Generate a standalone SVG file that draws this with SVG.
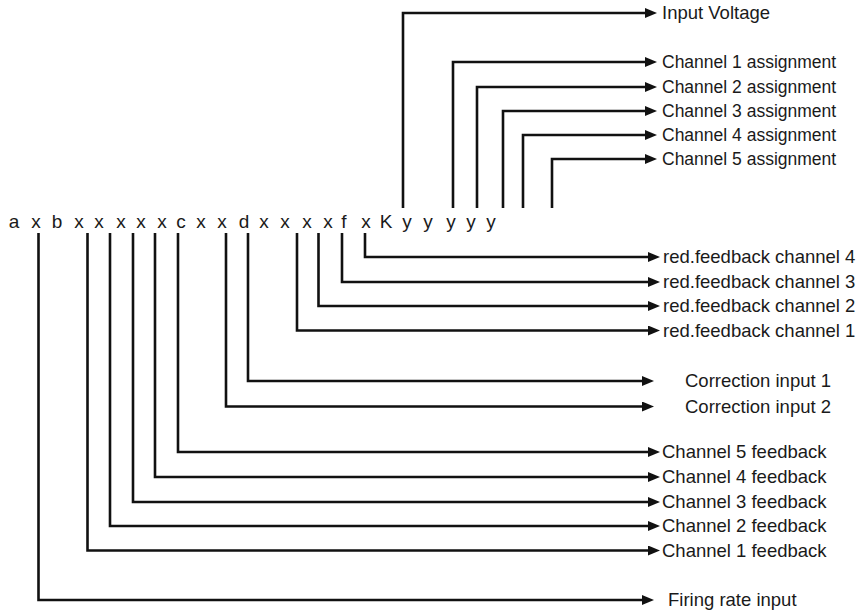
<svg xmlns="http://www.w3.org/2000/svg" width="860" height="614" viewBox="0 0 860 614">
  <style>
    .lbl { font-family: "Liberation Sans", Arial, sans-serif; font-size: 18.5px; fill: #1a1a1a; }
    .asg { font-size: 17.5px; }
    .bits { font-family: "Liberation Sans", Arial, sans-serif; font-size: 19px; fill: #1a1a1a; text-anchor: middle; }
    .wire { fill: none; stroke: #111; stroke-width: 2.6; stroke-linejoin: miter; }
  </style>
  <defs>
    <marker id="arr" markerUnits="userSpaceOnUse" markerWidth="14" markerHeight="12" refX="2" refY="5" orient="auto">
      <path d="M0,0 L12,5 L0,10 z" fill="#111"/>
    </marker>
  </defs>
  <rect width="860" height="614" fill="#fff"/>

  <g id="bitstring">
    <text class="bits" y="228" x="14 25 36 47 57 68 79 89 99 110 121 131 141 152 162 172 181 191 201 212 222 233 244 254 264 275 285 296 307 318 328 336 344 355 366 376 386 397 407 418 428 440 451 461 471 481 491">a x b x x x x x c x x d x x x x f x K y y y y y</text>
  </g>

  <g id="connectors">
    <path class="wire" marker-end="url(#arr)" d="M403,208 V13 H647"/>
    <path class="wire" marker-end="url(#arr)" d="M453,208 V62 H647"/>
    <path class="wire" marker-end="url(#arr)" d="M477,208 V87 H647"/>
    <path class="wire" marker-end="url(#arr)" d="M503,208 V111 H647"/>
    <path class="wire" marker-end="url(#arr)" d="M523,208 V135 H647"/>
    <path class="wire" marker-end="url(#arr)" d="M552,208 V159 H647"/>

    <path class="wire" marker-end="url(#arr)" d="M365,233 V257 H650"/>
    <path class="wire" marker-end="url(#arr)" d="M342,233 V282 H650"/>
    <path class="wire" marker-end="url(#arr)" d="M318.5,233 V306 H650"/>
    <path class="wire" marker-end="url(#arr)" d="M297,233 V330.5 H650"/>
    <path class="wire" marker-end="url(#arr)" d="M248,233 V381 H644"/>
    <path class="wire" marker-end="url(#arr)" d="M226,233 V406.5 H644"/>
    <path class="wire" marker-end="url(#arr)" d="M178,233 V452 H650"/>
    <path class="wire" marker-end="url(#arr)" d="M155,233 V477 H650"/>
    <path class="wire" marker-end="url(#arr)" d="M133,233 V502 H650"/>
    <path class="wire" marker-end="url(#arr)" d="M110,233 V526 H650"/>
    <path class="wire" marker-end="url(#arr)" d="M87.5,233 V550.5 H650"/>
    <path class="wire" marker-end="url(#arr)" d="M38.5,233 V600 H644"/>
  </g>

  <g id="input-voltage"><text class="lbl" x="662" y="19">Input Voltage</text></g>
  <g id="ch1-assignment"><text class="lbl asg" x="662" y="68">Channel 1 assignment</text></g>
  <g id="ch2-assignment"><text class="lbl asg" x="662" y="93">Channel 2 assignment</text></g>
  <g id="ch3-assignment"><text class="lbl asg" x="662" y="117">Channel 3 assignment</text></g>
  <g id="ch4-assignment"><text class="lbl asg" x="662" y="141">Channel 4 assignment</text></g>
  <g id="ch5-assignment"><text class="lbl asg" x="662" y="165">Channel 5 assignment</text></g>

  <g id="red-fb-4"><text class="lbl" x="663" y="263">red.feedback channel 4</text></g>
  <g id="red-fb-3"><text class="lbl" x="663" y="288">red.feedback channel 3</text></g>
  <g id="red-fb-2"><text class="lbl" x="663" y="312">red.feedback channel 2</text></g>
  <g id="red-fb-1"><text class="lbl" x="663" y="336.5">red.feedback channel 1</text></g>

  <g id="correction-1"><text class="lbl" x="685" y="387">Correction input 1</text></g>
  <g id="correction-2"><text class="lbl" x="685" y="412.5">Correction input 2</text></g>

  <g id="ch5-feedback"><text class="lbl" x="662" y="458">Channel 5 feedback</text></g>
  <g id="ch4-feedback"><text class="lbl" x="662" y="483">Channel 4 feedback</text></g>
  <g id="ch3-feedback"><text class="lbl" x="662" y="508">Channel 3 feedback</text></g>
  <g id="ch2-feedback"><text class="lbl" x="662" y="532">Channel 2 feedback</text></g>
  <g id="ch1-feedback"><text class="lbl" x="662" y="556.5">Channel 1 feedback</text></g>

  <g id="firing-rate"><text class="lbl" x="668" y="606">Firing rate input</text></g>
</svg>
